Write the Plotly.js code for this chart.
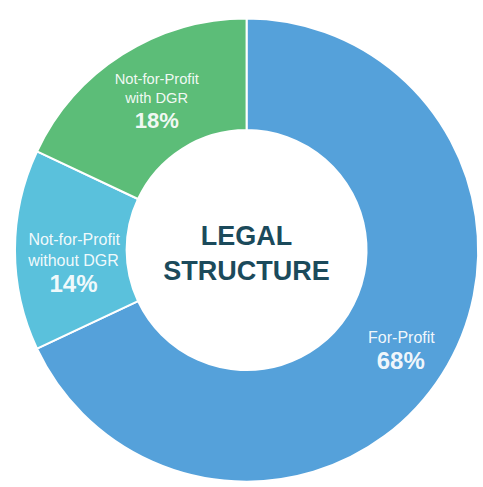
<!DOCTYPE html>
<html>
<head>
<meta charset="utf-8">
<script src="https://cdn.plot.ly/plotly-3.0.1.min.js"></script>
<style>html,body{margin:0;padding:0;background:#fff;}#chart{width:483px;height:487px;}</style>
</head>
<body>
<div id="chart"></div>
<script>
const categories = ["For-Profit", "Not-for-Profit<br>without DGR", "Not-for-Profit<br>with DGR"];
const values = [68, 14, 18];
const sliceColors = ["#55A1DA", "#5AC1DC", "#5CBD78"];
const centerTitle = "LEGAL<br>STRUCTURE";

// style-only nudges of the inside labels (px right, px down)
const labelNudge = [{dx: 6, dy: 7}, {dx: 0, dy: 14}, {dx: 5, dy: 0}];

const font = "Liberation Sans, Arial, Helvetica, sans-serif";

function buildTemplate(i) {
  const n = labelNudge[i];
  const lines = categories[i].split("<br>");
  lines.push("<span style='font-size:24px;baseline-shift:-5px'><b>%{percent:.0%}</b></span>");
  const pad = n.dx > 0 ? "<span style='font-size:" + (n.dx) + "px;fill-opacity:0'>\u2003\u2003</span>" : "";
  const raise = n.dy > 0 ? "<span style='fill-opacity:0;baseline-shift:" + (2 * n.dy) + "px'>\u200A</span>" : "";
  return lines.map((l, k) => (k === 0 ? raise : "") + pad + l).join("<br>");
}

const trace = {
  type: "pie",
  labels: categories,
  values: values,
  sort: false,
  direction: "clockwise",
  rotation: 0,
  hole: 0.518,
  marker: {colors: sliceColors, line: {color: "#ffffff", width: 2}},
  textposition: "inside",
  insidetextorientation: "horizontal",
  texttemplate: categories.map((c, i) => buildTemplate(i)),
  textfont: {family: font, size: 16, color: "rgba(255,255,255,0.93)"},
  hoverinfo: "label+percent",
  domain: {x: [0.031, 0.99], y: [0.008, 0.965]},
  title: {text: "<b>" + centerTitle + "</b>", position: "middle center",
          font: {family: font, size: 27, color: "#1B4A5B"}}
};

const layout = {
  width: 483, height: 487,
  margin: {l: 0, r: 0, t: 0, b: 0},
  showlegend: false,
  paper_bgcolor: "#ffffff",
  font: {family: font}
};

Plotly.newPlot("chart", [trace], layout, {displayModeBar: false, staticPlot: true});
</script>
</body>
</html>
